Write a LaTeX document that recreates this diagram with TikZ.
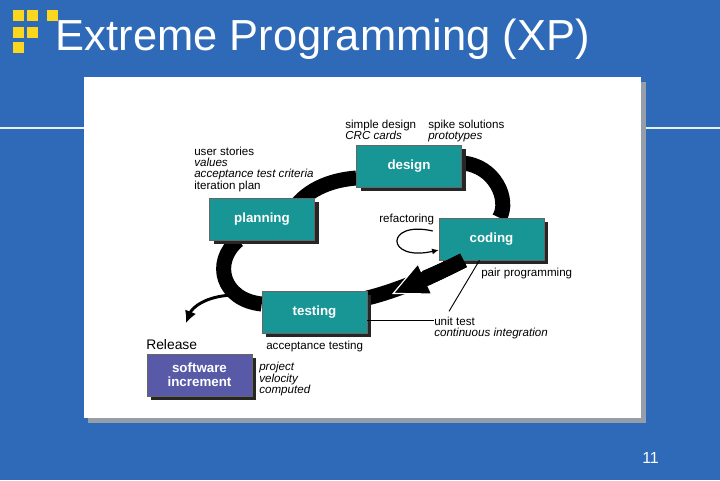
\documentclass[tikz,border=0pt]{standalone}
\usepackage{fontspec}
\setmainfont{Liberation Sans}
\usepackage{xcolor}
\usetikzlibrary{shapes,arrows,arrows.meta,positioning,backgrounds,shadows}

\definecolor{slideblue}{RGB}{46,106,184}
\definecolor{xpteal}{RGB}{24,150,150}
\definecolor{xppurple}{RGB}{88,90,168}
\definecolor{xpyellow}{RGB}{250,215,30}
\definecolor{panelshadow}{RGB}{150,158,170}

\newcommand{\titlefont}{\fontsize{32.6pt}{36pt}\selectfont}
\newcommand{\lblfont}{\fontsize{8.7pt}{8.5pt}\selectfont}
\newcommand{\boxfont}{\fontsize{10pt}{10.5pt}\selectfont\bfseries}

\tikzset{
  phasebox/.style={rectangle, fill=xpteal, draw=black!60, text=white,
    font=\boxfont, align=center, minimum width=78.75pt, minimum height=31.5pt,
    drop shadow={shadow xshift=3pt, shadow yshift=-3pt, opacity=1, fill=black!85}},
  incbox/.style={phasebox, fill=xppurple},
  notetext/.style={font=\lblfont, inner sep=0pt, align=left},
  loopband/.style={line width=11.25pt, black},
  leader/.style={line width=0.7pt, black}
}

\begin{document}
\begin{tikzpicture}[x=0.75pt,y=-0.75pt]
\useasboundingbox (0,0) rectangle (720,480);

% Slide background and white panel
\begin{pgfonlayer}{background}
\fill[slideblue] (0,0) rectangle (720,480);
\draw[white!90!slideblue, line width=1.5pt] (0,128) -- (720,128);
\fill[panelshadow] (88,82) rectangle (646,423);
\fill[white] (84,77) rectangle (641,418);
\end{pgfonlayer}

% Title
\foreach \sx/\sy in {13/10,27/10,47/10,13/27,27/27,13/42}
    \fill[xpyellow] (\sx,\sy) rectangle ++(11,11);
\node[anchor=base west, text=white, font=\titlefont, inner sep=0pt] (title) at (55.5,50) {Extreme Programming (XP)};
\node[anchor=base west, text=white, font=\fontsize{12pt}{14pt}\selectfont, inner sep=0pt] (pagenum) at (642,463) {11};

% Phases
\node[phasebox] (design) at (409,166) {design};
\node[phasebox] (planning) at (262,219) {planning};
\node[phasebox] (coding) at (491.5,239) {coding};
\node[phasebox] (testing) at (314.5,312) {testing};
\node[incbox] (increment) at (199.5,375) {software\\increment};

% Notes
\node[notetext, anchor=north west] (dnotes) at (345,119.5) {simple design\\\textit{CRC cards}};
\node[notetext, anchor=north west] (spike) at (428,119.5) {spike solutions\\\textit{prototypes}};
\node[notetext, anchor=north west] (stories) at (194,146.5) {user stories\\\textit{values}\\\textit{acceptance test criteria}\\iteration plan};
\node[notetext, anchor=base west] (refac) at (379,222) {refactoring};
\node[notetext, anchor=base west] (pairprog) at (481,276) {pair programming};
\node[notetext, anchor=base west] (unittest) at (434,325) {unit test};
\node[notetext, anchor=base west] (contint) at (434,336) {\textit{continuous integration}};
\node[notetext, anchor=base west] (acctest) at (266,349) {acceptance testing};
\node[notetext, anchor=base west, font=\fontsize{10.4pt}{12pt}\selectfont] (release) at (146,349) {Release};
\node[notetext, anchor=north west] (velocity) at (259,362) {\textit{project}\\\textit{velocity}\\\textit{computed}};

% Cycle
\coordinate (cycletip) at (392,294);
\coordinate (relfrom) at (233,295);
\coordinate (relto) at (186,323);
\begin{pgfonlayer}{background}
\draw[loopband] ([shift={(28,-26)}]planning.south) .. controls (304,190) and (330,180) .. ([shift={(0,12)}]design.west);
\draw[loopband] ([shift={(0,-3)}]design.east) .. controls (495,165) and (510,200) .. ([shift={(8,0)}]coding.north);
\draw[loopband] ([shift={(-28,0)}]coding.south) .. controls (440,272) and (400,290) .. ([shift={(0,-14)}]testing.east);
\draw[loopband] ([shift={(0,-8)}]testing.west) .. controls (222,300) and (212,262) .. ([shift={(-24,0)}]planning.south);
\end{pgfonlayer}
\draw[loopband, -{Triangle[length=27.5pt,width=26pt,line width=0.9pt,color=white,fill=black]}]
    ([shift={(-28,0)}]coding.south) .. controls (440,272) .. (cycletip);
\draw[loopband, shorten >=25pt] ([shift={(-28,0)}]coding.south) .. controls (440,272) .. (cycletip);
\draw[line width=2.2pt, -{Latex[length=9pt,width=9pt]}] (relfrom) .. controls (205,296) and (192,308) .. (relto);
\draw[line width=0.9pt, -{Latex[length=5pt,width=4.5pt]}] ([shift={(-6,-8)}]coding.west) .. controls (385,220) and (385,262) .. ([shift={(0,11)}]coding.west);

% Leaders
\draw[leader] ([shift={(-12,0)}]coding.south) -- ([shift={(15,-5)}]unittest.north west);
\draw[leader] (testing.east |- unittest.west) -- (unittest.west);

\end{tikzpicture}
\end{document}
